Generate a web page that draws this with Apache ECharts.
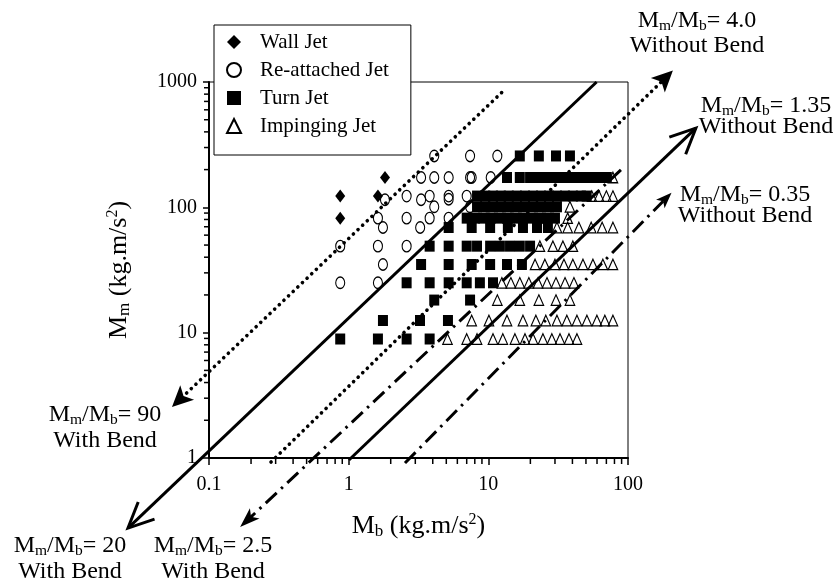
<!DOCTYPE html>
<html>
<head>
<meta charset="utf-8">
<script src="https://cdn.jsdelivr.net/npm/echarts@6/dist/echarts.min.js"></script>
<style>
  html, body { margin: 0; padding: 0; background: #fff; }
  #chart { width: 837px; height: 585px; }
</style>
</head>
<body>
<div id="chart"></div>
<script>
// Measured momentum pairs [Mb, Mm] (kg.m/s^2), grouped by observed jet regime
const wallJet = [[0.87, 123], [1.62, 123], [0.87, 82], [1.82, 173]];

const reattachedJet = [
  [4.1, 257], [7.4, 257], [11.6, 257],
  [3.3, 173], [4.1, 173], [5.2, 173], [7.4, 173], [7.6, 173], [10.4, 173],
  [1.82, 115], [2.6, 123], [3.3, 115], [3.8, 123], [5.2, 123], [5.2, 116], [7.0, 123],
  [4.1, 101], [7.4, 101],
  [1.62, 82], [2.6, 82], [3.8, 82], [5.2, 82],
  [1.76, 69], [3.25, 69],
  [0.87, 49], [1.62, 49], [2.6, 49],
  [1.76, 35],
  [0.87, 25], [1.62, 25]
];

const turnJet = [
  [16.8, 257], [23, 257], [30.5, 257], [38.4, 257],
  [13.6, 173], [16.8, 173], [19.9, 173], [22.3, 173], [25, 173], [28.1, 173], [31.5, 173],
  [35.4, 173], [39.7, 173], [44.5, 173], [50, 173], [56, 173], [63, 173], [70.5, 173],
  [8.3, 123], [9.5, 123], [10.8, 123], [12.3, 123], [14, 123], [16, 123], [18.3, 123], [20.9, 123],
  [23.8, 123], [27.2, 123], [31, 123], [35.4, 123], [40.3, 123], [46, 123], [50.6, 123],
  [8.3, 101], [9.5, 101], [10.8, 101], [12.3, 101], [14, 101], [16, 101], [18.3, 101], [20.9, 101],
  [23.8, 101], [27.2, 101], [31, 101],
  [7, 82], [8, 82], [9.2, 82], [10.4, 82], [11.9, 82], [13.6, 82], [15.5, 82], [17.7, 82],
  [20.2, 82], [23, 82], [26.3, 82], [30, 82],
  [5.2, 69], [7.6, 69], [10.3, 69], [13.8, 69], [17.7, 69], [22.3, 69], [26.7, 69],
  [3.8, 49], [5.2, 49], [7, 49], [8.3, 49], [10.3, 49], [12.1, 49], [14.3, 49], [16.8, 49], [19.9, 49],
  [3.3, 35], [5.2, 35], [7.6, 35], [10.3, 35], [13.6, 35], [17.4, 35],
  [2.6, 25], [3.8, 25], [5.2, 25], [7, 25], [8.7, 25], [10.8, 25],
  [4.1, 18.2], [7.4, 18.2],
  [1.76, 12.5], [3.24, 12.5], [5.14, 12.5],
  [0.87, 8.9], [1.62, 8.9], [2.6, 8.9], [3.8, 8.9]
];

const impingingJet = [
  [78, 173],
  [55, 123], [62, 123], [70, 123], [78, 123],
  [38.4, 101], [37, 82],
  [31, 69], [37, 69], [44.5, 69], [54.5, 69], [65.3, 69], [78, 69],
  [23.4, 49], [29, 49], [34.2, 49], [40.3, 49],
  [21.6, 35], [25.4, 35], [30, 35], [34.8, 35], [40.3, 35], [47.6, 35], [56.1, 35], [66.1, 35], [78, 35],
  [12.5, 25], [14.5, 25], [16.8, 25], [19.5, 25], [22.7, 25], [26.3, 25], [30.5, 25], [35.4, 25], [41, 25],
  [11.6, 18.2], [16.8, 18.2], [23, 18.2], [30.5, 18.2], [38.4, 18.2],
  [7.6, 12.5], [10.1, 12.5], [13.6, 12.5], [17.7, 12.5], [21.9, 12.5], [25.8, 12.5], [31, 12.5],
  [36.5, 12.5], [43.1, 12.5], [50.8, 12.5], [59.9, 12.5], [68.3, 12.5], [78, 12.5],
  [5.1, 8.9], [7, 8.9], [8.3, 8.9], [10.8, 8.9], [12.7, 8.9], [15.5, 8.9], [18.3, 8.9], [20.9, 8.9],
  [24.6, 8.9], [28.5, 8.9], [32.6, 8.9], [37.8, 8.9], [43.1, 8.9]
];

// Regime boundaries: [Mb start, Mm start, Mb at arrow tip, Mm at arrow tip]
const boundary90 = [12.45, 823, 0.0543, 2.55];
const boundary20 = [59.6, 1000, 0.0263, 0.276];
const boundary4 = [0.278, 0.929, 209.6, 1233];
const boundary25 = [89, 199, 0.167, 0.281];
const boundary135 = [1.005, 0.964, 306, 428];
const boundary035 = [2.53, 0.912, 205, 131];

// Minor tick positions for the two log axes
const xMinorTicks = [0.2, 0.3, 0.4, 0.5, 0.6, 0.7, 0.8, 0.9, 2, 3, 4, 5, 6, 7, 8, 9, 20, 30, 40, 50, 60, 70, 80, 90];
const yMinorTicks = [2, 3, 4, 5, 6, 7, 8, 9, 20, 30, 40, 50, 60, 70, 80, 90, 200, 300, 400, 500, 600, 700, 800, 900];

const SERIF = '"Liberation Serif", "Times New Roman", serif';
const INK = '#000';

const chart = echarts.init(document.getElementById('chart'), null, { renderer: 'canvas' });

const DOTTED = { width: 3.6, dash: [0.1, 6.3], cap: 'round' };
const DASHDOT = { width: 3, dash: [15, 6, 2.5, 6], cap: 'butt' };
const SOLID = { width: 3, dash: null, cap: 'butt' };

// A straight boundary between two data points with an arrowhead on the second one
function boundarySeries(name, segment, stroke, head) {
  return {
    type: 'custom',
    name: name,
    coordinateSystem: 'cartesian2d',
    clip: false,
    silent: true,
    z: 4,
    dimensions: ['x1', 'y1', 'x2', 'y2'],
    encode: { x: [0, 2], y: [1, 3] },
    data: [segment],
    renderItem: function (params, api) {
      const a = api.coord([api.value(0), api.value(1)]);
      const b = api.coord([api.value(2), api.value(3)]);
      const dx = b[0] - a[0], dy = b[1] - a[1];
      const len = Math.hypot(dx, dy);
      const ux = dx / len, uy = dy / len;
      const nx = -uy, ny = ux;
      const children = [];
      let end = b;
      if (head.kind === 'filled') {
        const L = head.length, W = head.width / 2;
        const bx = b[0] - ux * L, by = b[1] - uy * L;
        const back = [b[0] - ux * (L - head.notch), b[1] - uy * (L - head.notch)];
        children.push({
          type: 'polygon',
          shape: { points: [b, [bx + nx * W, by + ny * W], back, [bx - nx * W, by - ny * W]] },
          style: { fill: INK, stroke: null }
        });
        end = back;
      } else {
        const L = head.length, t = head.angle * Math.PI / 180;
        const arm = function (s) {
          const c = Math.cos(s * t), sn = Math.sin(s * t);
          const vx = -ux, vy = -uy;
          return [b[0] + L * (vx * c - vy * sn), b[1] + L * (vx * sn + vy * c)];
        };
        children.push({
          type: 'polyline',
          shape: { points: [arm(1), b, arm(-1)] },
          style: { stroke: INK, lineWidth: 3, fill: 'none', lineJoin: 'miter' }
        });
      }
      children.unshift({
        type: 'line',
        shape: { x1: a[0], y1: a[1], x2: end[0], y2: end[1] },
        style: { stroke: INK, lineWidth: stroke.width, lineDash: stroke.dash, lineCap: stroke.cap, fill: 'none' }
      });
      return { type: 'group', children: children };
    }
  };
}

// Short outward tick marks at given axis values; dir [dx, dy] is the tick vector in pixels
function minorTickSeries(name, points, dir) {
  return {
    type: 'custom',
    name: name,
    coordinateSystem: 'cartesian2d',
    clip: false,
    silent: true,
    z: 6,
    dimensions: ['x', 'y'],
    encode: { x: 0, y: 1 },
    data: points,
    renderItem: function (params, api) {
      const p = api.coord([api.value(0), api.value(1)]);
      return {
        type: 'group',
        children: [{
          type: 'line',
          shape: { x1: p[0], y1: p[1], x2: p[0] + dir[0], y2: p[1] + dir[1] },
          style: { stroke: INK, lineWidth: 1.5, fill: 'none' }
        }]
      };
    }
  };
}

// Rich text pieces for "Mm/Mb= value" style labels
const labelRich = {
  t: { fontFamily: SERIF, fontSize: 24, color: INK, lineHeight: 25 },
  s: { fontFamily: SERIF, fontSize: 15.5, color: INK, lineHeight: 13, verticalAlign: 'bottom' }
};

function ratioLabel(cx, y1, y2, ratio, note) {
  return {
    type: 'group',
    silent: true,
    children: [
      {
        type: 'text', x: cx, y: y1,
        style: { text: '{t|M}{s|m}{t|/M}{s|b}{t|= ' + ratio + '}', align: 'center', verticalAlign: 'middle', rich: labelRich }
      },
      {
        type: 'text', x: cx, y: y2,
        style: { text: note, align: 'center', verticalAlign: 'middle', fontFamily: SERIF, fontSize: 24, fill: INK }
      }
    ]
  };
}

const titleRich = {
  t: { fontFamily: SERIF, fontSize: 26, color: INK, lineHeight: 28 },
  s: { fontFamily: SERIF, fontSize: 17, color: INK, lineHeight: 14, verticalAlign: 'bottom' },
  p: { fontFamily: SERIF, fontSize: 16, color: INK, lineHeight: 19, verticalAlign: 'top' }
};

const hollow = { color: 'rgba(0,0,0,0)', borderColor: INK, borderWidth: 1.2, opacity: 1 };
const solidInk = { color: INK, opacity: 1 };

chart.setOption({
  animation: false,
  backgroundColor: '#fff',
  grid: {
    left: 209, top: 82, right: 209, bottom: 127,
    show: true, borderColor: INK, borderWidth: 1, backgroundColor: '#fff'
  },
  xAxis: {
    type: 'log', logBase: 10, min: 0.1, max: 100,
    name: '{t|M}{s|b}{t| (kg.m/s}{p|2}{t|)}',
    nameLocation: 'middle', nameGap: 54,
    nameTextStyle: { rich: titleRich },
    axisLine: { lineStyle: { color: INK, width: 2 } },
    axisTick: { show: true, inside: false, length: 7, lineStyle: { color: INK, width: 1.5 } },
    axisLabel: { color: INK, fontFamily: SERIF, fontSize: 20, margin: 17, formatter: function (v) { return String(v); } },
    splitLine: { show: false }
  },
  yAxis: {
    type: 'log', logBase: 10, min: 1, max: 1000,
    name: '{t|M}{s|m}{t| (kg.m/s}{p|2}{t|)}',
    nameLocation: 'middle', nameGap: 76,
    nameTextStyle: { rich: titleRich },
    axisLine: { lineStyle: { color: INK, width: 2 } },
    axisTick: { show: true, inside: false, length: 6, lineStyle: { color: INK, width: 1.5 } },
    axisLabel: { color: INK, fontFamily: SERIF, fontSize: 20, margin: 12, formatter: function (v) { return String(v); } },
    splitLine: { show: false }
  },
  legend: {
    left: 214, top: 25,
    orient: 'vertical',
    padding: [6, 22, 18, 12],
    itemWidth: 14, itemHeight: 14, itemGap: 6,
    backgroundColor: '#fff', borderColor: INK, borderWidth: 1,
    z: 10,
    selectedMode: false,
    textStyle: { fontFamily: SERIF, fontSize: 21, color: INK, lineHeight: 22, padding: [0, 0, 0, 14] },
    data: ['Wall Jet', 'Re-attached Jet', 'Turn Jet', 'Impinging Jet']
  },
  series: [
    {
      name: 'Wall Jet', type: 'scatter', data: wallJet,
      symbol: 'diamond', symbolSize: [10, 13], itemStyle: solidInk, z: 2
    },
    {
      name: 'Re-attached Jet', type: 'scatter', data: reattachedJet,
      symbol: 'circle', symbolSize: [9, 11.5], itemStyle: hollow, z: 2
    },
    {
      name: 'Turn Jet', type: 'scatter', data: turnJet,
      symbol: 'rect', symbolSize: [10, 11], itemStyle: solidInk, z: 2
    },
    {
      name: 'Impinging Jet', type: 'scatter', data: impingingJet,
      symbol: 'triangle', symbolSize: [9.5, 10.5], itemStyle: hollow, z: 2
    },
    minorTickSeries('x minor ticks', xMinorTicks.map(function (v) { return [v, 1]; }), [0, 6]),
    minorTickSeries('y minor ticks', yMinorTicks.map(function (v) { return [0.1, v]; }), [-5, 0]),
    boundarySeries('ratio 90', boundary90, DOTTED, { kind: 'filled', length: 21, width: 20, notch: 5 }),
    boundarySeries('ratio 20', boundary20, SOLID, { kind: 'open', length: 28, angle: 25 }),
    boundarySeries('ratio 4.0', boundary4, DOTTED, { kind: 'filled', length: 21, width: 20, notch: 5 }),
    boundarySeries('ratio 2.5', boundary25, DASHDOT, { kind: 'filled', length: 20, width: 14, notch: 5 }),
    boundarySeries('ratio 1.35', boundary135, SOLID, { kind: 'open', length: 28, angle: 25 }),
    boundarySeries('ratio 0.35', boundary035, DASHDOT, { kind: 'filled', length: 16, width: 12, notch: 4 })
  ],
  graphic: [
    ratioLabel(697, 21, 46, '4.0', 'Without Bend'),
    ratioLabel(766, 106, 127, '1.35', 'Without Bend'),
    ratioLabel(745, 195, 216, '0.35', 'Without Bend'),
    ratioLabel(105, 415, 441, '90', 'With Bend'),
    ratioLabel(70, 546, 572, '20', 'With Bend'),
    ratioLabel(213, 546, 572, '2.5', 'With Bend')
  ]
});
</script>
</body>
</html>
